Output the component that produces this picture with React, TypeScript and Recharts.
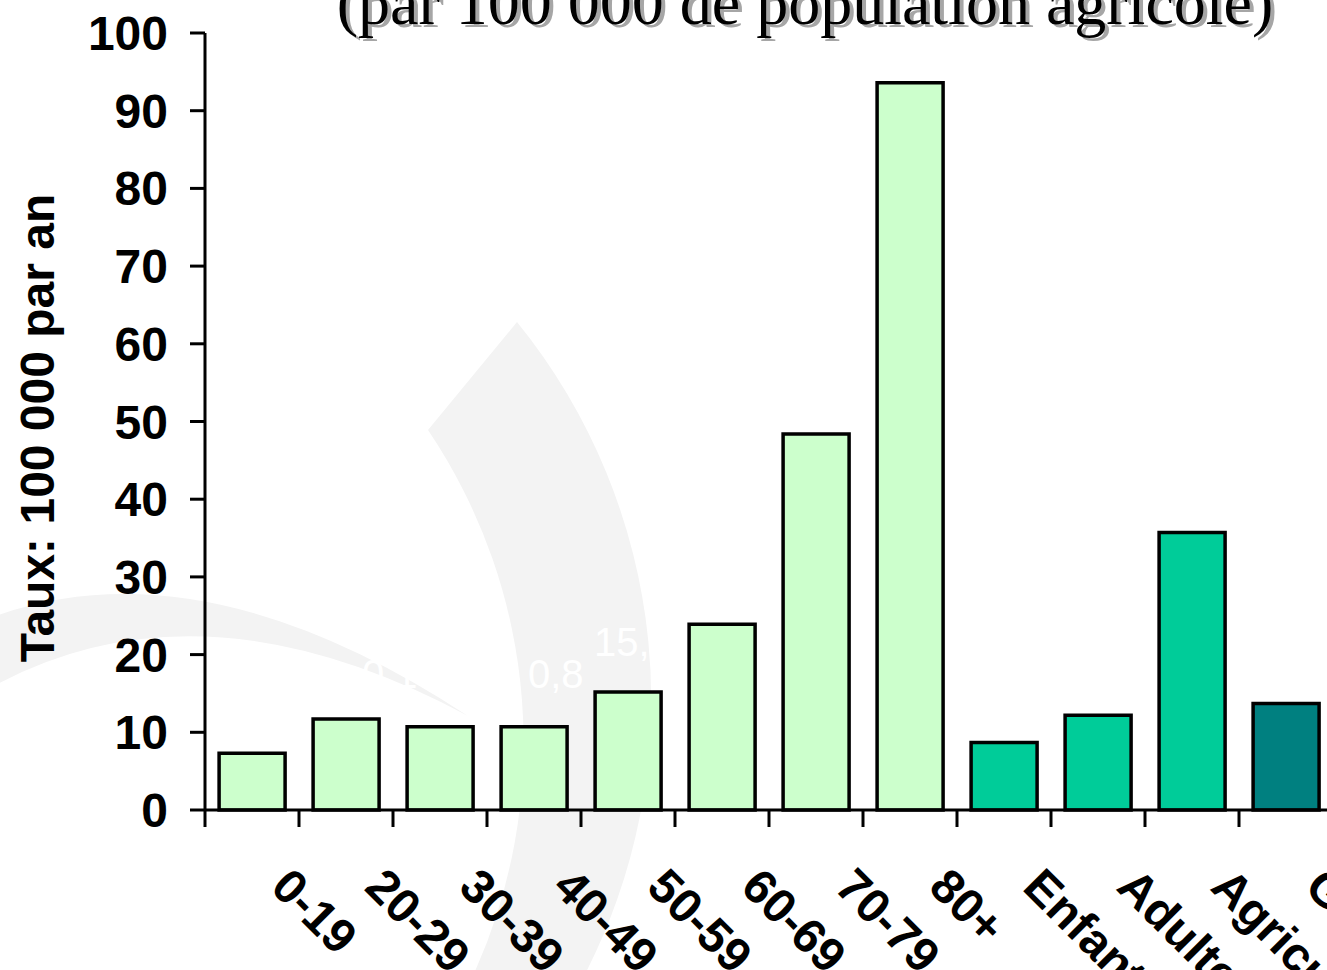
import React from 'react';
import { BarChart, Bar, XAxis, YAxis, Cell } from 'recharts';

// categories and rates (per 100 000 per year)
const categories = ['0-19', '20-29', '30-39', '40-49', '50-59', '60-69', '70-79', '80+', 'Enfants', 'Adultes', 'Agriculteurs', 'Général'];
const rates = [7.3, 11.7, 10.7, 10.7, 15.2, 23.9, 48.4, 93.6, 8.7, 12.2, 35.7, 13.7];
const barColors = ['#CCFFCC', '#CCFFCC', '#CCFFCC', '#CCFFCC', '#CCFFCC', '#CCFFCC', '#CCFFCC', '#CCFFCC', '#00CC99', '#00CC99', '#00CC99', '#008080'];
const yTicks = [0, 10, 20, 30, 40, 50, 60, 70, 80, 90, 100];

const SANS = '"Liberation Sans", Arial, sans-serif';
const SERIF = '"Liberation Serif", "Times New Roman", serif';

const CHART_W = 1380;
const CHART_H = 970;
const MARGIN = { top: 33, right: 47, bottom: 0, left: 0 };
const Y_AXIS_W = 205;
const X_AXIS_H = 160;
const PLOT_W = CHART_W - MARGIN.left - MARGIN.right - Y_AXIS_W;
const BAND = PLOT_W / categories.length;
const TICK = 17;

const data = categories.map((c, i) => ({ category: c, rate: rates[i] }));

// tick marks sit on category boundaries, labels are rotated 45deg
const CategoryTick = (props: any) => {
  const { x, y, payload, index } = props;
  const half = BAND / 2;
  const tx = x + 17;
  const ty = y + 62;
  return (
    <g>
      <line x1={x - half} y1={y - TICK} x2={x - half} y2={y} stroke="#000" strokeWidth={3} />
      {index === categories.length - 1 && (
        <line x1={x + half} y1={y - TICK} x2={x + half} y2={y} stroke="#000" strokeWidth={3} />
      )}
      <text
        x={tx}
        y={ty}
        transform={`rotate(45 ${tx} ${ty})`}
        textAnchor="start"
        fontFamily={SANS}
        fontSize={48}
        fontWeight="bold"
        fill="#000"
      >
        {payload.value}
      </text>
    </g>
  );
};

export default function App() {
  return (
    <div
      style={{
        position: 'absolute',
        left: 0,
        top: 0,
        width: 1327,
        height: 970,
        overflow: 'hidden',
        background: '#fff',
      }}
    >
      {/* background: faint watermark, title, axis title */}
      <svg width={1327} height={970} style={{ position: 'absolute', left: 0, top: 0 }}>
        <path d="M517,322 A600,600 0 0 1 582,980 L471,980 A560,560 0 0 0 428,430 Z" fill="#f3f3f3" />
        <path d="M-10,618 Q200,540 468,716 Q200,572 -10,688 Z" fill="#f3f3f3" />
        <g fill="#fff" fontFamily={SANS} fontSize={40}>
          <text x={362} y={688}>0,16</text>
          <text x={528} y={688}>0,8</text>
          <text x={594} y={656}>15,4</text>
        </g>
        <g fontFamily={SERIF} fontSize={64} textAnchor="middle">
          <text x={809} y={27} fill="#a6a6a6">(par 100 000 de population agricole)</text>
          <text x={805} y={24} fill="#000">(par 100 000 de population agricole)</text>
        </g>
        <text
          x={54}
          y={428}
          transform="rotate(-90 54 428)"
          textAnchor="middle"
          fontFamily={SANS}
          fontSize={48}
          fontWeight="bold"
          fill="#000"
        >
          Taux: 100 000 par an
        </text>
      </svg>

      <div style={{ position: 'absolute', left: 0, top: 0 }}>
        <BarChart width={CHART_W} height={CHART_H} data={data} margin={MARGIN} barCategoryGap="15%">
          <XAxis
            dataKey="category"
            interval={0}
            height={X_AXIS_H}
            tickSize={TICK}
            tickMargin={0}
            tickLine={false}
            axisLine={{ stroke: '#000', strokeWidth: 3 }}
            tick={<CategoryTick />}
          />
          <YAxis
            type="number"
            domain={[0, 100]}
            ticks={yTicks}
            interval={0}
            width={Y_AXIS_W}
            tickSize={15}
            tickMargin={22}
            axisLine={{ stroke: '#000', strokeWidth: 3 }}
            tickLine={{ stroke: '#000', strokeWidth: 3 }}
            tick={{ fill: '#000', fontSize: 48, fontWeight: 'bold', fontFamily: SANS }}
          />
          <Bar dataKey="rate" stroke="#000" strokeWidth={3.5} isAnimationActive={false}>
            {data.map((d, i) => (
              <Cell key={`cell-${i}`} fill={barColors[i]} />
            ))}
          </Bar>
        </BarChart>
      </div>
    </div>
  );
}
